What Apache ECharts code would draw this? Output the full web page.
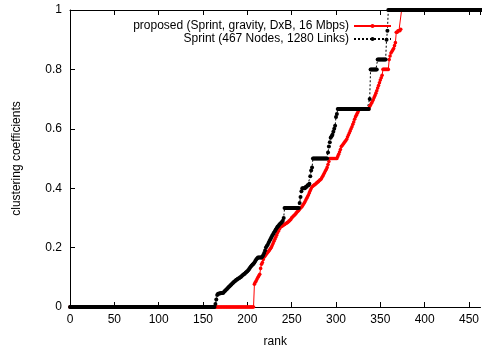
<!DOCTYPE html>
<html>
<head>
<meta charset="utf-8">
<script src="https://cdn.jsdelivr.net/npm/echarts@6/dist/echarts.min.js"></script>
<style>html,body{margin:0;padding:0;background:#fff}#c{width:482px;height:353px}</style>
</head>
<body>
<div id="c"></div>
<script>
function rep(v, n) { var a = []; for (var i = 0; i < n; i++) a.push(v); return a; }
var T = 1 / 3, H = 0.5, TT = 2 / 3;

var seriesNames = ['proposed (Sprint, gravity, DxB, 16 Mbps)', 'Sprint (467 Nodes, 1280 Links)'];
var xTicks = [0, 50, 100, 150, 200, 250, 300, 350, 400, 450];
var yTicks = [0, 0.2, 0.4, 0.6, 0.8, 1];

// clustering coefficient of each node, sorted, for rank 0..466
var proposedValues = [].concat(
  rep(0, 208),
  [0.077, 0.083, 0.088, 0.094],
  [0.1, 0.105, 0.11, 0.13, 0.144],
  [0.15, 0.16, 0.168],
  [0.172, 0.176, 0.18, 0.184, 0.188, 0.192, 0.196, 0.2],
  [0.207, 0.214, 0.221, 0.228, 0.235, 0.242, 0.249, 0.255, 0.262],
  [0.268, 0.27, 0.272, 0.274, 0.276, 0.278, 0.28, 0.282, 0.284, 0.286, 0.289, 0.292, 0.295],
  [0.3, 0.303, 0.306, 0.309, 0.312, 0.316, 0.32],
  [0.322, 0.326, 0.33, 0.333, 0.336, 0.34, 0.344, 0.349, 0.354, 0.36],
  [0.366, 0.372, 0.378, 0.385, 0.392, 0.399, 0.405],
  [0.407, 0.41, 0.412, 0.414, 0.417, 0.42, 0.422, 0.425, 0.428, 0.43],
  [0.435, 0.44, 0.446, 0.452, 0.458, 0.463],
  [0.47, 0.48, 0.49],
  rep(H, 9),
  [0.507, 0.514, 0.522, 0.53, 0.54],
  [0.544, 0.548, 0.552, 0.556, 0.56, 0.565],
  [0.572, 0.579, 0.586, 0.593, 0.6],
  [0.607, 0.615, 0.623, 0.632, 0.64],
  [0.646, 0.652, 0.658, 0.664],
  rep(TT, 11),
  [0.675, 0.68, 0.686, 0.692, 0.698, 0.705, 0.712, 0.72],
  [0.728, 0.737, 0.746, 0.755, 0.764, 0.772, 0.78],
  rep(0.8, 7),
  [0.833, 0.845, 0.855],
  [0.86, 0.865, 0.87, 0.88, 0.89],
  [0.925, 0.925, 0.93, 0.93, 0.93, 0.935],
  rep(1, 93)
);

var sprintValues = [].concat(
  rep(0, 164),
  [0.01, 0.025, 0.04],
  [0.045, 0.045, 0.046, 0.046, 0.047, 0.047, 0.048],
  [0.052, 0.055, 0.058, 0.061, 0.064, 0.067, 0.07],
  [0.073, 0.076, 0.079, 0.082, 0.085, 0.087, 0.09, 0.092, 0.094],
  [0.096, 0.098, 0.1, 0.102, 0.105, 0.108, 0.11, 0.112, 0.115, 0.118, 0.12],
  [0.124, 0.128, 0.132, 0.136, 0.14, 0.143, 0.146, 0.15],
  [0.155, 0.16, 0.163, 0.167, 0.167, 0.167, 0.167, 0.167, 0.17],
  [0.175, 0.182, 0.19, 0.2],
  [0.205, 0.21, 0.216, 0.222, 0.228, 0.234, 0.24, 0.245, 0.25, 0.255, 0.26, 0.265, 0.27],
  [0.273, 0.277, 0.28, 0.283, 0.286, 0.29, 0.3],
  rep(T, 17),
  [0.35, 0.37, 0.39, 0.4],
  [0.4, 0.4, 0.4, 0.405, 0.405, 0.41, 0.41, 0.415],
  [0.44, 0.46, 0.47],
  rep(H, 17),
  [0.52, 0.54, 0.555, 0.57],
  [0.575, 0.58, 0.59, 0.6, 0.61, 0.64, 0.65],
  rep(TT, 36),
  [0.7],
  rep(0.8, 8),
  rep(5 / 6, 10),
  [0.9, 0.93],
  rep(1, 108)
);

function toPairs(vals) { return vals.map(function (v, i) { return [i, v]; }); }

var FONT = 'Liberation Sans';
var chart = echarts.init(document.getElementById('c'), null, { renderer: 'canvas' });
var axisCommon = {
  axisLine: { show: true, lineStyle: { color: '#000', width: 1 } },
  axisTick: { show: true, inside: true, length: 5, lineStyle: { color: '#000' } },
  splitLine: { show: false }
};
var XMAX = 463;
chart.setOption({
  animation: false,
  backgroundColor: '#fff',
  grid: { left: 70, top: 10, right: 0, bottom: 45, containLabel: false },
  legend: {
    orient: 'vertical', right: 85, top: 14, align: 'right',
    itemWidth: 37, itemHeight: 5, itemGap: -1,
    textStyle: { fontSize: 12, lineHeight: 14, fontFamily: FONT, color: '#000' },
    data: seriesNames
  },
  xAxis: [
    Object.assign({
      type: 'value', min: 0, max: XMAX, interval: 50, position: 'bottom',
      name: 'rank', nameLocation: 'middle', nameGap: 29,
      nameTextStyle: { fontSize: 12, fontFamily: FONT, color: '#000' },
      axisLabel: { fontSize: 12, fontFamily: FONT, color: '#000', margin: 7, showMaxLabel: false,
        formatter: function (v) { return xTicks.indexOf(v) >= 0 ? String(v) : ''; } }
    }, axisCommon),
    Object.assign({
      type: 'value', min: 0, max: XMAX, interval: 50, position: 'top',
      axisLabel: { show: false }
    }, axisCommon)
  ],
  yAxis: [
    Object.assign({
      type: 'value', min: 0, max: 1, interval: 0.2,
      name: 'clustering coefficients', nameLocation: 'middle', nameGap: 47,
      nameTextStyle: { fontSize: 12, fontFamily: FONT, color: '#000' },
      axisLabel: { fontSize: 12, fontFamily: FONT, color: '#000', margin: 8,
        formatter: function (v) { return yTicks.indexOf(Math.round(v * 10) / 10) >= 0 ? String(Math.round(v * 10) / 10) : ''; } }
    }, axisCommon)
  ],
  series: [
    {
      name: seriesNames[0], type: 'line', data: toPairs(proposedValues),
      symbol: 'circle', symbolSize: 3.6, showAllSymbol: true, clip: false,
      itemStyle: { color: '#ff0000' },
      lineStyle: { color: '#ff0000', width: 1 }
    },
    {
      name: seriesNames[1], type: 'line', data: toPairs(sprintValues),
      symbol: 'circle', symbolSize: 4, showAllSymbol: true, clip: false,
      itemStyle: { color: '#000' },
      lineStyle: { color: '#000', width: 1, type: [2, 2] }
    }
  ]
});
</script>
</body>
</html>
